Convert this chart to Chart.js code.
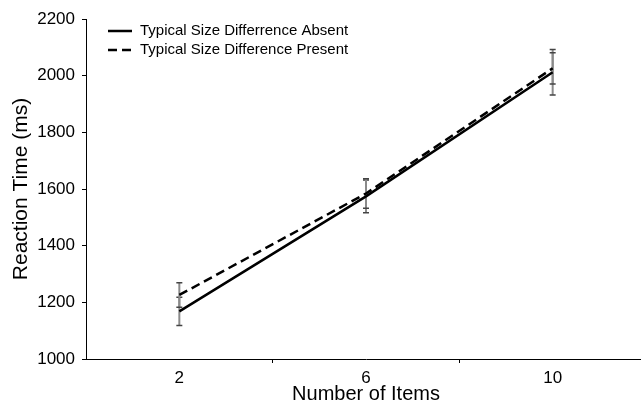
<!DOCTYPE html>
<html>
<head>
<meta charset="utf-8">
<script src="https://cdn.jsdelivr.net/npm/chart.js@4/dist/chart.umd.min.js"></script>
<style>
  html, body { margin: 0; padding: 0; background: #fff; overflow: hidden; width: 641px; height: 404px; }
  canvas { display: block; }
</style>
</head>
<body>
<canvas id="c" width="650" height="404"></canvas>
<script>
const categories = ['2', '6', '10'];
const absentRT = [1168, 1574, 2012];
const presentRT = [1226, 1584, 2026];
const absentErr = [50, 58, 80];
const presentErr = [43, 52, 55];
const yTickValues = [1000, 1200, 1400, 1600, 1800, 2000, 2200];
const seriesLabels = ['Typical Size Differrence Absent', 'Typical Size Difference Present'];

const FONT = "'Liberation Sans', Arial, Helvetica, sans-serif";

const errorBars = {
  id: 'errorBars',
  beforeDatasetsDraw(chart) {
    const ctx = chart.ctx;
    const xs = chart.scales.x, ys = chart.scales.y;
    const sets = [[absentRT, absentErr], [presentRT, presentErr]];
    ctx.save();
    sets.forEach(([vals, errs]) => {
      vals.forEach((v, i) => {
        const x = xs.getPixelForValue(i);
        const yt = ys.getPixelForValue(v + errs[i]);
        const yb = ys.getPixelForValue(v - errs[i]);
        ctx.strokeStyle = '#8a8a8a';
        ctx.lineWidth = 2;
        ctx.beginPath();
        ctx.moveTo(x, yt); ctx.lineTo(x, yb);
        ctx.stroke();
        ctx.strokeStyle = '#444';
        ctx.lineWidth = 1.5;
        ctx.beginPath();
        ctx.moveTo(x - 3, yt); ctx.lineTo(x + 3, yt);
        ctx.moveTo(x - 3, yb); ctx.lineTo(x + 3, yb);
        ctx.stroke();
      });
    });
    ctx.restore();
  }
};

const customLegend = {
  id: 'customLegend',
  afterDraw(chart) {
    const ctx = chart.ctx;
    ctx.save();
    ctx.font = '15px ' + FONT;
    ctx.fillStyle = '#000';
    ctx.textBaseline = 'middle';
    chart.data.datasets.forEach((ds, i) => {
      const y = 31 + i * 19;
      ctx.strokeStyle = '#000';
      ctx.lineWidth = 2.5;
      ctx.setLineDash(ds.borderDash || []);
      ctx.beginPath();
      ctx.moveTo(108, y); ctx.lineTo(132, y);
      ctx.stroke();
      ctx.setLineDash([]);
      ctx.fillText(ds.label, 140, y);
    });
    ctx.restore();
  }
};

new Chart(document.getElementById('c'), {
  type: 'line',
  data: {
    labels: categories,
    datasets: [
      { label: seriesLabels[0], data: absentRT, borderColor: '#000', borderWidth: 2.5, pointRadius: 0, fill: false, tension: 0 },
      { label: seriesLabels[1], data: presentRT, borderColor: '#000', borderWidth: 2.5, borderDash: [9, 5], pointRadius: 0, fill: false, tension: 0 }
    ]
  },
  options: {
    responsive: false,
    animation: false,
    devicePixelRatio: 1,
    layout: { padding: { top: 19, right: 4, left: 0, bottom: 0 } },
    plugins: { legend: { display: false }, tooltip: { enabled: false } },
    scales: {
      x: {
        type: 'category',
        offset: true,
        grid: {
          offset: true,
          drawOnChartArea: false,
          drawTicks: true,
          tickLength: 4,
          color: (c) => (c.index === 0 ? 'rgba(0,0,0,0)' : '#000'),
          lineWidth: 1
        },
        border: { display: true, color: '#000', width: 1 },
        ticks: { color: '#000', font: { family: FONT, size: 17 }, padding: 5, maxRotation: 0 },
        title: { display: true, text: 'Number of Items', color: '#000', font: { family: FONT, size: 20, lineHeight: 1 }, padding: 0 },
        afterFit(s) { s.height = 45; }
      },
      y: {
        min: 1000,
        max: 2200,
        afterBuildTicks(s) { s.ticks = yTickValues.map(v => ({ value: v })); },
        grid: { drawOnChartArea: false, drawTicks: true, tickLength: 4, color: '#000', lineWidth: 1 },
        border: { display: true, color: '#000', width: 1 },
        ticks: { color: '#000', font: { family: FONT, size: 17 }, padding: 7, callback: (v) => String(v) },
        title: { display: true, text: 'Reaction Time (ms)', color: '#000', font: { family: FONT, size: 21, lineHeight: 1 }, padding: { top: 11, bottom: 0 } },
        afterFit(s) { s.width = 86; }
      }
    }
  },
  plugins: [errorBars, customLegend]
});
</script>
</body>
</html>
